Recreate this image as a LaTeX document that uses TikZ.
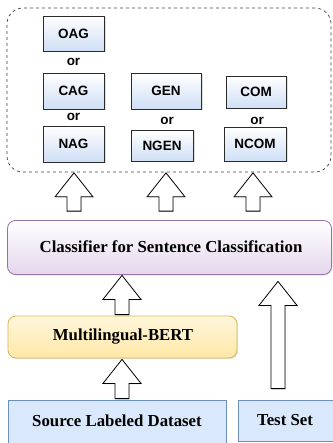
\documentclass[tikz,border=0pt]{standalone}
\usepackage{fontspec}
\setmainfont{Liberation Serif}
\newfontfamily\arialfont{Liberation Sans}
\usetikzlibrary{calc,shadows}
\definecolor{sbfill}{HTML}{CFDFF5}
\definecolor{sbdraw}{HTML}{2B2B2B}
\definecolor{clsfill}{HTML}{E4D6EC}
\definecolor{clsdraw}{HTML}{9673A6}
\definecolor{berttop}{HTML}{FFF7DC}
\definecolor{bertbot}{HTML}{FFE7A6}
\definecolor{bertdraw}{HTML}{D6B656}
\definecolor{srcfill}{HTML}{DAE8FC}
\definecolor{srcdraw}{HTML}{6C8EBF}
\tikzset{
  smallbox/.style={draw=sbdraw, line width=0.8pt, top color=white, bottom color=sbfill,
    inner sep=0pt, font=\arialfont\bfseries\fontsize{13.5}{15}\selectfont,
    drop shadow={shadow xshift=1.5pt, shadow yshift=-1.5pt, opacity=0.25}},
  ortext/.style={font=\arialfont\bfseries\fontsize{13.5}{15}\selectfont, inner sep=0pt},
  group/.style={draw=black!75, dashed, line width=0.7pt, rounded corners=16pt, inner sep=0pt},
  bigtext/.style={font=\bfseries\fontsize{16.8}{19}\selectfont, inner sep=0pt},
  clsbox/.style={draw=clsdraw, line width=0.8pt, rounded corners=8pt, top color=white, bottom color=clsfill,
    drop shadow={shadow xshift=1pt, shadow yshift=-1pt, opacity=0.2}},
  bertbox/.style={draw=bertdraw, line width=0.8pt, rounded corners=8pt, top color=berttop, bottom color=bertbot,
    drop shadow={shadow xshift=1pt, shadow yshift=-1pt, opacity=0.2}},
  srcbox/.style={draw=srcdraw, line width=0.8pt, fill=srcfill},
  barrow/.style={draw=black, line width=0.8pt, fill=white, line join=miter,
    drop shadow={shadow xshift=1pt, shadow yshift=-1pt, opacity=0.2}},
}
% block arrow from coordinate #1 (shaft bottom) up to coordinate #2 (tip)
\newcommand{\blockarr}[2]{%
  \path[barrow] let \p1=(#1), \p2=(#2) in
    (\x2,\y2) -- (\x2+19pt,\y2-24pt) -- (\x2+7pt,\y2-24pt) -- (\x2+7pt,\y1)
    -- (\x2-7pt,\y1) -- (\x2-7pt,\y2-24pt) -- (\x2-19pt,\y2-24pt) -- cycle;}
\begin{document}
\begin{tikzpicture}[x=1pt,y=-1pt]
\useasboundingbox (0,0) rectangle (332,443);
% group container
\node[group, minimum width=324pt, minimum height=164pt] (grp) at (169,90) {};
% small boxes
\node[smallbox, minimum width=61pt, minimum height=35pt] (oag) at (73.5,33.5) {OAG};
\node[smallbox, minimum width=61pt, minimum height=36pt] (cag) at (73.5,91) {CAG};
\node[smallbox, minimum width=61pt, minimum height=36pt] (nag) at (73.5,144) {NAG};
\node[smallbox, minimum width=70pt, minimum height=36pt] (gen) at (166,91) {GEN};
\node[smallbox, minimum width=62pt, minimum height=31pt] (ngen) at (162,145.5) {NGEN};
\node[smallbox, minimum width=60pt, minimum height=32pt] (com) at (256,92) {COM};
\node[smallbox, minimum width=62pt, minimum height=34pt] (ncom) at (255,144) {NCOM};
\node[ortext] (or1) at (73.5,61.5) {or};
\node[ortext] (or2) at (73.5,117) {or};
\node[ortext] (or3) at (167,120.5) {or};
\node[ortext] (or4) at (257,120.5) {or};
% main boxes
\node[clsbox, minimum width=324pt, minimum height=54pt] (cls) at (169.5,247.5) {};
\node[bigtext] (clst) at (171,247) {Classifier for Sentence Classification};
\node[bertbox, minimum width=229pt, minimum height=42pt] (bert) at (122.5,337) {};
\node[bigtext] (bertt) at (123,337) {Multilingual-BERT};
\node[srcbox, minimum width=218pt, minimum height=46pt] (src) at (117,423) {};
\node[bigtext] (srct) at (117,421) {Source Labeled Dataset};
\node[srcbox, minimum width=95pt, minimum height=41pt] (test) at (285.5,420.5) {};
\node[bigtext] (testt) at (285,420) {Test Set};
% arrow coordinates
\coordinate (a1s) at ($(cls.north -| 74,0)+(0,-9)$);
\coordinate (a1t) at ($(grp.south -| 74,0)+(0,0.5)$);
\coordinate (a2s) at ($(cls.north -| gen.south)+(0,-9)$);
\coordinate (a2t) at ($(grp.south -| gen.south)+(0,0.5)$);
\coordinate (a3s) at ($(cls.north -| 253,0)+(0,-9)$);
\coordinate (a3t) at ($(grp.south -| 253,0)+(0,0.5)$);
\coordinate (a4s) at ($(bert.north -| 122,0)+(0,-1)$);
\coordinate (a4t) at ($(cls.south -| 122,0)+(0,0.5)$);
\coordinate (a5s) at ($(src.north -| 122,0)+(0,-1)$);
\coordinate (a5t) at ($(bert.south -| 122,0)+(0,1)$);
\coordinate (a6s) at ($(test.north -| 278,0)+(0,-11)$);
\coordinate (a6t) at ($(cls.south -| 278,0)+(0,6.5)$);
\blockarr{a1s}{a1t}
\blockarr{a2s}{a2t}
\blockarr{a3s}{a3t}
\blockarr{a4s}{a4t}
\blockarr{a5s}{a5t}
\blockarr{a6s}{a6t}
\end{tikzpicture}
\end{document}
